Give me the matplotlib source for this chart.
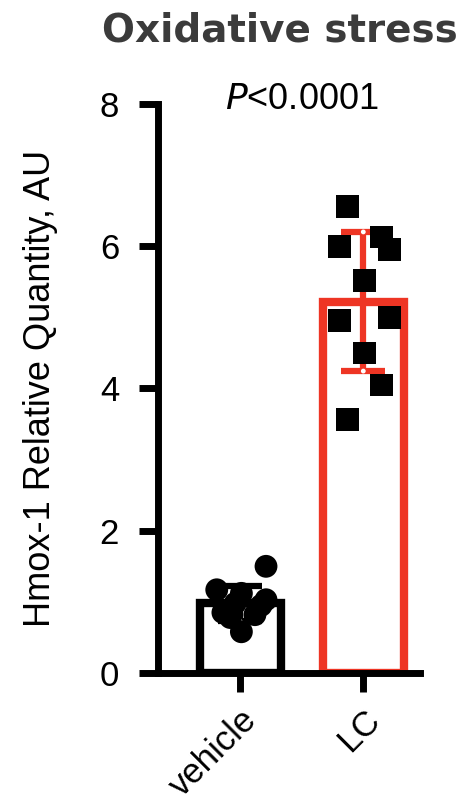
import matplotlib
matplotlib.use("Agg")
import matplotlib.pyplot as plt
import numpy as np

plt.rcParams["font.family"] = ["Liberation Sans", "DejaVu Sans"]

# ---------------------------------------------------------------------------
# Data
# ---------------------------------------------------------------------------
groups = ["vehicle", "LC"]

vehicle_vals = [1.50, 1.17, 1.12, 1.03, 0.98, 0.85, 0.82, 0.78, 0.95, 0.58]
vehicle_jitter = [0.21, -0.19, 0.01, 0.21, -0.04, -0.14, 0.12, -0.08, 0.17, 0.01]

lc_vals = [6.56, 6.00, 6.13, 5.95, 5.52, 4.96, 5.00, 4.50, 4.05, 3.56]
lc_jitter = [-0.13, -0.19, 0.15, 0.21, 0.01, -0.19, 0.21, 0.01, 0.15, -0.13]

p_text = "$\\it{P}$<0.0001"
ylabel = "Hmox-1 Relative Quantity, AU"
title = "Oxidative stress"

RED = "#ee3524"
colors = ["black", RED]

# ---------------------------------------------------------------------------
fig = plt.figure(figsize=(4.62, 8.06), dpi=100)
ax = fig.add_axes([0.342, 0.165, 0.567, 0.706])

series = [vehicle_vals, lc_vals]
jitters = [vehicle_jitter, lc_jitter]
markers = ["o", "s"]

for i, (vals, jit, col, mk) in enumerate(zip(series, jitters, colors, markers)):
    vals = np.asarray(vals)
    mean = vals.mean()
    sd = vals.std(ddof=1)
    ax.bar(i, mean, width=0.66, facecolor="white", edgecolor=col,
           linewidth=6, zorder=2)
    ax.errorbar(i, mean, yerr=sd, color=col, elinewidth=4.5, capsize=16,
                capthick=4.5, zorder=3, fmt="none")
    # small white dots where the bar line meets the caps
    ax.scatter([i] * 2, [mean - sd, mean + sd], s=12, c="white",
               edgecolor="none", zorder=3.5)
    ax.scatter(i + np.asarray(jit), vals, marker=mk, s=270, c="black",
               edgecolor="none", zorder=4)

ax.set_xlim(-0.667, 1.46)
ax.set_ylim(0, 8)
ax.set_yticks([0, 2, 4, 6, 8])
ax.set_xticks([0, 1])
ax.set_xticklabels(groups, rotation=45, ha="right", rotation_mode="anchor",
                   fontsize=25)
ax.tick_params(axis="both", width=5, length=14, labelsize=25)
ax.tick_params(axis="y", pad=14)
ax.tick_params(axis="x", pad=8)

for side in ["top", "right"]:
    ax.spines[side].set_visible(False)
for side in ["left", "bottom"]:
    ax.spines[side].set_linewidth(5)

ax.set_ylabel(ylabel, fontsize=26, labelpad=30)
ax.text(0.5, 8.06, p_text, ha="center", va="center", fontsize=26)

fig.text(0.605, 0.962, title, ha="center", va="center", fontsize=28,
         fontweight="bold", color="#3b3b3b", family=["DejaVu Sans"])

fig.savefig("out.png", dpi=100)
